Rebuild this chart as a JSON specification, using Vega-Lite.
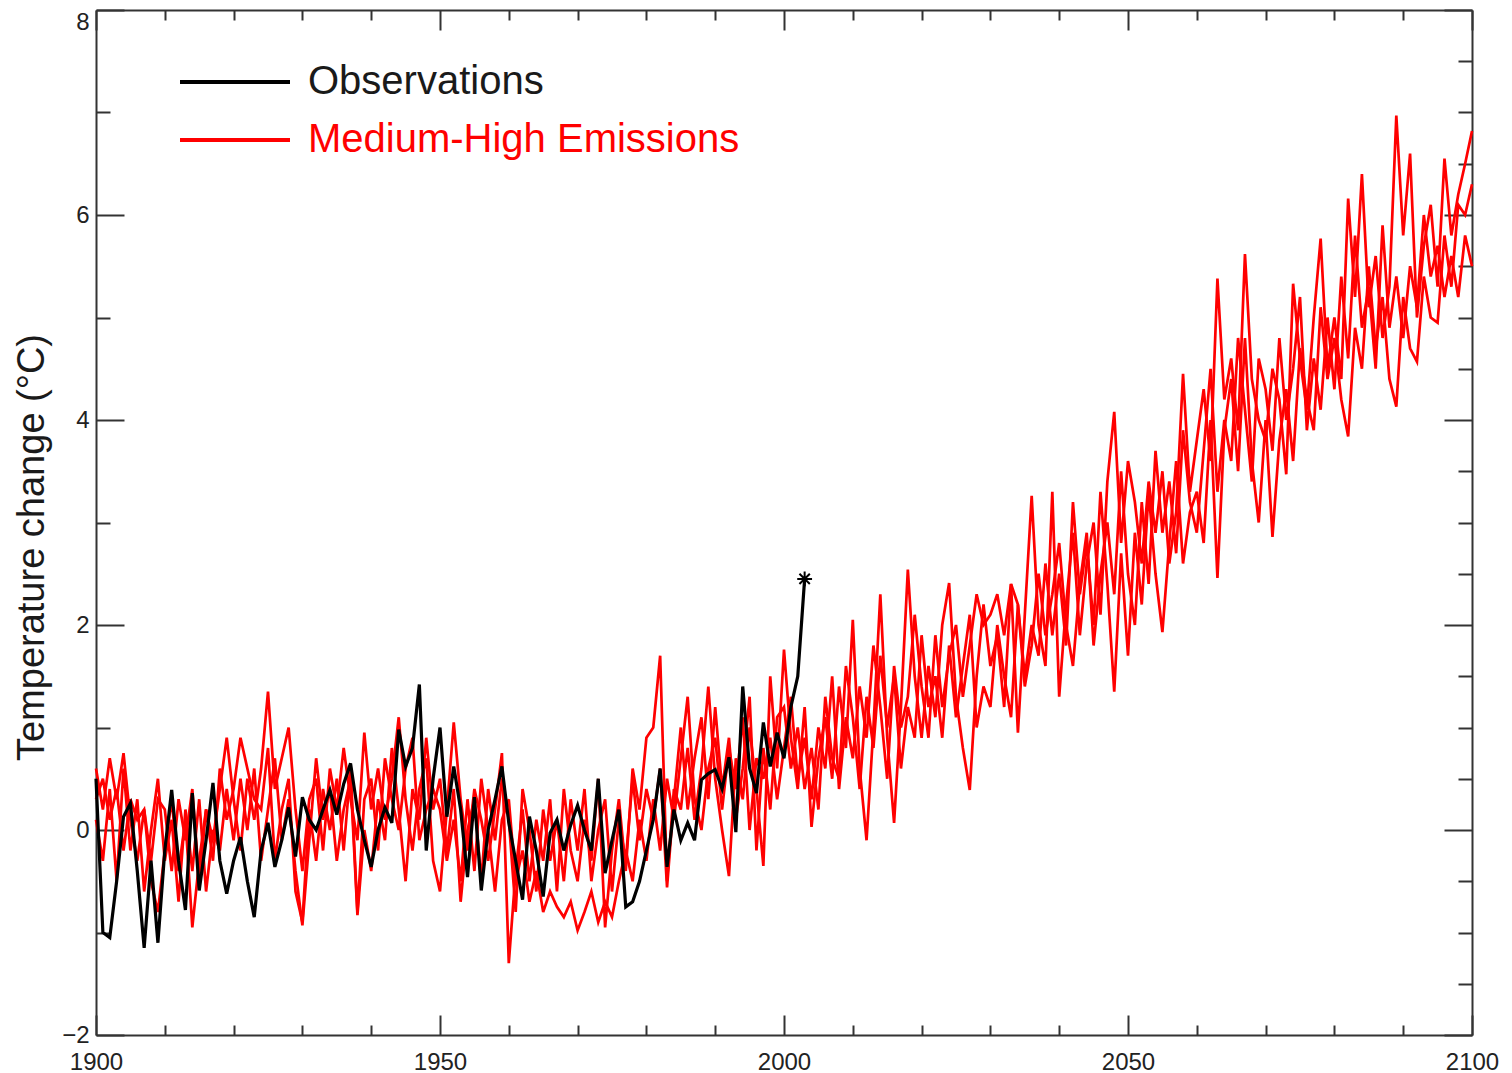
{
"$schema": "https://vega.github.io/schema/vega-lite/v6.json",
"width": 1376, "height": 1025,
"autosize": {"type": "none"},
"padding": {"left": 96, "top": 10, "right": 40, "bottom": 38},
"background": "white",
"config": {
  "view": {"stroke": null},
  "font": "Liberation Sans",
  "axis": {"domainColor": "#333333", "domainWidth": 2, "tickColor": "#333333", "tickWidth": 2, "labelFont": "Liberation Sans", "labelFontSize": 24, "labelColor": "#222222", "grid": false}
},
"datasets": {
"runA": [
{"year":1900,"temp":0.6},{"year":1901,"temp":0.2},{"year":1902,"temp":0.7},{"year":1903,"temp":0.3},{"year":1904,"temp":0.75},{"year":1905,"temp":0.1},{"year":1906,"temp":-0.3},{"year":1907,"temp":0.2},{"year":1908,"temp":-0.5},{"year":1909,"temp":-0.8},
{"year":1910,"temp":-0.2},{"year":1911,"temp":0.3},{"year":1912,"temp":-0.4},{"year":1913,"temp":0.1},{"year":1914,"temp":-0.95},{"year":1915,"temp":-0.3},{"year":1916,"temp":0.2},{"year":1917,"temp":-0.1},{"year":1918,"temp":0.4},{"year":1919,"temp":0.9},
{"year":1920,"temp":0.3},{"year":1921,"temp":-0.2},{"year":1922,"temp":0.5},{"year":1923,"temp":0.1},{"year":1924,"temp":0.6},{"year":1925,"temp":1.35},{"year":1926,"temp":0.4},{"year":1927,"temp":0.7},{"year":1928,"temp":1.0},{"year":1929,"temp":0.2},
{"year":1930,"temp":-0.4},{"year":1931,"temp":0.3},{"year":1932,"temp":0.5},{"year":1933,"temp":-0.2},{"year":1934,"temp":0.6},{"year":1935,"temp":0.2},{"year":1936,"temp":0.8},{"year":1937,"temp":0.3},{"year":1938,"temp":-0.1},{"year":1939,"temp":0.95},
{"year":1940,"temp":0.2},{"year":1941,"temp":0.6},{"year":1942,"temp":0.1},{"year":1943,"temp":0.5},{"year":1944,"temp":1.1},{"year":1945,"temp":0.3},{"year":1946,"temp":-0.2},{"year":1947,"temp":0.4},{"year":1948,"temp":0.7},{"year":1949,"temp":-0.3},
{"year":1950,"temp":-0.6},{"year":1951,"temp":0.2},{"year":1952,"temp":1.05},{"year":1953,"temp":0.3},{"year":1954,"temp":-0.2},{"year":1955,"temp":0.4},{"year":1956,"temp":0.1},{"year":1957,"temp":-0.3},{"year":1958,"temp":0.2},{"year":1959,"temp":0.75},
{"year":1960,"temp":-1.3},{"year":1961,"temp":-0.4},{"year":1962,"temp":0.2},{"year":1963,"temp":-0.5},{"year":1964,"temp":0.1},{"year":1965,"temp":-0.3},{"year":1966,"temp":0.3},{"year":1967,"temp":-0.6},{"year":1968,"temp":0.4},{"year":1969,"temp":-0.2},
{"year":1970,"temp":-0.5},{"year":1971,"temp":0.1},{"year":1972,"temp":-0.3},{"year":1973,"temp":0.5},{"year":1974,"temp":-0.95},{"year":1975,"temp":-0.2},{"year":1976,"temp":0.3},{"year":1977,"temp":-0.4},{"year":1978,"temp":0.6},{"year":1979,"temp":0.2},
{"year":1980,"temp":0.9},{"year":1981,"temp":1.0},{"year":1982,"temp":1.7},{"year":1983,"temp":-0.5},{"year":1984,"temp":0.4},{"year":1985,"temp":0.2},{"year":1986,"temp":0.8},{"year":1987,"temp":0.1},{"year":1988,"temp":0.6},{"year":1989,"temp":1.4},
{"year":1990,"temp":0.5},{"year":1991,"temp":0.0},{"year":1992,"temp":-0.45},{"year":1993,"temp":0.7},{"year":1994,"temp":0.3},{"year":1995,"temp":1.0},{"year":1996,"temp":0.4},{"year":1997,"temp":-0.35},{"year":1998,"temp":1.5},{"year":1999,"temp":0.6},
{"year":2000,"temp":1.76},{"year":2001,"temp":0.9},{"year":2002,"temp":0.4},{"year":2003,"temp":1.2},{"year":2004,"temp":0.03},{"year":2005,"temp":0.7},{"year":2006,"temp":1.1},{"year":2007,"temp":0.5},{"year":2008,"temp":1.4},{"year":2009,"temp":0.8},
{"year":2010,"temp":2.05},{"year":2011,"temp":0.6},{"year":2012,"temp":-0.1},{"year":2013,"temp":1.0},{"year":2014,"temp":2.3},{"year":2015,"temp":0.9},{"year":2016,"temp":0.07},{"year":2017,"temp":1.2},{"year":2018,"temp":2.54},{"year":2019,"temp":1.5},
{"year":2020,"temp":0.9},{"year":2021,"temp":1.6},{"year":2022,"temp":1.1},{"year":2023,"temp":2.0},{"year":2024,"temp":2.41},{"year":2025,"temp":1.3},{"year":2026,"temp":0.8},{"year":2027,"temp":0.39},{"year":2028,"temp":1.5},{"year":2029,"temp":2.2},
{"year":2030,"temp":1.6},{"year":2031,"temp":1.9},{"year":2032,"temp":1.2},{"year":2033,"temp":2.4},{"year":2034,"temp":0.95},{"year":2035,"temp":2.1},{"year":2036,"temp":3.26},{"year":2037,"temp":2.0},{"year":2038,"temp":1.6},{"year":2039,"temp":3.3},
{"year":2040,"temp":1.3},{"year":2041,"temp":2.2},{"year":2042,"temp":2.9},{"year":2043,"temp":1.9},{"year":2044,"temp":2.6},{"year":2045,"temp":3.0},{"year":2046,"temp":2.1},{"year":2047,"temp":3.4},{"year":2048,"temp":4.08},{"year":2049,"temp":2.8},
{"year":2050,"temp":3.6},{"year":2051,"temp":3.2},{"year":2052,"temp":2.6},{"year":2053,"temp":3.4},{"year":2054,"temp":2.9},{"year":2055,"temp":3.5},{"year":2056,"temp":2.6},{"year":2057,"temp":3.1},{"year":2058,"temp":4.45},{"year":2059,"temp":3.3},
{"year":2060,"temp":3.8},{"year":2061,"temp":4.3},{"year":2062,"temp":3.6},{"year":2063,"temp":5.38},{"year":2064,"temp":4.2},{"year":2065,"temp":4.6},{"year":2066,"temp":3.9},{"year":2067,"temp":5.62},{"year":2068,"temp":4.4},{"year":2069,"temp":4.0},
{"year":2070,"temp":3.8},{"year":2071,"temp":4.5},{"year":2072,"temp":4.2},{"year":2073,"temp":3.47},{"year":2074,"temp":5.33},{"year":2075,"temp":4.6},{"year":2076,"temp":4.1},{"year":2077,"temp":5.0},{"year":2078,"temp":5.77},{"year":2079,"temp":4.5},
{"year":2080,"temp":5.0},{"year":2081,"temp":4.4},{"year":2082,"temp":6.16},{"year":2083,"temp":5.2},{"year":2084,"temp":6.4},{"year":2085,"temp":5.1},{"year":2086,"temp":5.6},{"year":2087,"temp":4.8},{"year":2088,"temp":5.3},{"year":2089,"temp":6.97},
{"year":2090,"temp":5.8},{"year":2091,"temp":6.6},{"year":2092,"temp":5.0},{"year":2093,"temp":5.7},{"year":2094,"temp":6.1},{"year":2095,"temp":5.3},{"year":2096,"temp":6.55},{"year":2097,"temp":5.8},{"year":2098,"temp":6.2},{"year":2099,"temp":6.5},{"year":2100,"temp":6.82}
],
"runB": [
{"year":1900,"temp":0.3},{"year":1901,"temp":0.5},{"year":1902,"temp":0.1},{"year":1903,"temp":0.4},{"year":1904,"temp":-0.2},{"year":1905,"temp":0.3},{"year":1906,"temp":0.1},{"year":1907,"temp":0.2},{"year":1908,"temp":-0.3},{"year":1909,"temp":0.3},
{"year":1910,"temp":0.2},{"year":1911,"temp":-0.4},{"year":1912,"temp":0.3},{"year":1913,"temp":-0.1},{"year":1914,"temp":0.4},{"year":1915,"temp":-0.5},{"year":1916,"temp":0.2},{"year":1917,"temp":-0.3},{"year":1918,"temp":0.6},{"year":1919,"temp":0.1},
{"year":1920,"temp":0.4},{"year":1921,"temp":0.9},{"year":1922,"temp":0.6},{"year":1923,"temp":0.3},{"year":1924,"temp":0.2},{"year":1925,"temp":0.8},{"year":1926,"temp":-0.3},{"year":1927,"temp":0.2},{"year":1928,"temp":0.5},{"year":1929,"temp":-0.6},
{"year":1930,"temp":-0.9},{"year":1931,"temp":0.2},{"year":1932,"temp":-0.3},{"year":1933,"temp":0.4},{"year":1934,"temp":0.0},{"year":1935,"temp":0.5},{"year":1936,"temp":-0.2},{"year":1937,"temp":0.6},{"year":1938,"temp":-0.8},{"year":1939,"temp":0.3},
{"year":1940,"temp":0.5},{"year":1941,"temp":-0.2},{"year":1942,"temp":0.7},{"year":1943,"temp":0.3},{"year":1944,"temp":0.0},{"year":1945,"temp":0.6},{"year":1946,"temp":0.9},{"year":1947,"temp":-0.1},{"year":1948,"temp":0.2},{"year":1949,"temp":0.4},
{"year":1950,"temp":0.2},{"year":1951,"temp":-0.3},{"year":1952,"temp":0.1},{"year":1953,"temp":-0.5},{"year":1954,"temp":0.3},{"year":1955,"temp":-0.4},{"year":1956,"temp":0.5},{"year":1957,"temp":0.0},{"year":1958,"temp":-0.6},{"year":1959,"temp":0.1},
{"year":1960,"temp":0.3},{"year":1961,"temp":-0.5},{"year":1962,"temp":-0.2},{"year":1963,"temp":-0.7},{"year":1964,"temp":-0.4},{"year":1965,"temp":-0.8},{"year":1966,"temp":-0.6},{"year":1967,"temp":-0.75},{"year":1968,"temp":-0.85},{"year":1969,"temp":-0.7},
{"year":1970,"temp":-0.98},{"year":1971,"temp":-0.8},{"year":1972,"temp":-0.6},{"year":1973,"temp":-0.9},{"year":1974,"temp":-0.7},{"year":1975,"temp":-0.85},{"year":1976,"temp":-0.5},{"year":1977,"temp":-0.2},{"year":1978,"temp":-0.5},{"year":1979,"temp":0.1},
{"year":1980,"temp":-0.3},{"year":1981,"temp":0.3},{"year":1982,"temp":-0.2},{"year":1983,"temp":0.5},{"year":1984,"temp":0.1},{"year":1985,"temp":0.7},{"year":1986,"temp":1.3},{"year":1987,"temp":0.3},{"year":1988,"temp":0.0},{"year":1989,"temp":0.6},
{"year":1990,"temp":0.9},{"year":1991,"temp":0.2},{"year":1992,"temp":0.8},{"year":1993,"temp":0.4},{"year":1994,"temp":1.1},{"year":1995,"temp":0.0},{"year":1996,"temp":0.7},{"year":1997,"temp":0.5},{"year":1998,"temp":0.9},{"year":1999,"temp":0.3},
{"year":2000,"temp":0.8},{"year":2001,"temp":1.3},{"year":2002,"temp":0.5},{"year":2003,"temp":0.9},{"year":2004,"temp":0.3},{"year":2005,"temp":1.0},{"year":2006,"temp":0.6},{"year":2007,"temp":1.5},{"year":2008,"temp":0.4},{"year":2009,"temp":1.1},
{"year":2010,"temp":0.7},{"year":2011,"temp":1.4},{"year":2012,"temp":0.9},{"year":2013,"temp":1.8},{"year":2014,"temp":1.2},{"year":2015,"temp":0.5},{"year":2016,"temp":1.6},{"year":2017,"temp":1.0},{"year":2018,"temp":1.3},{"year":2019,"temp":2.1},
{"year":2020,"temp":1.4},{"year":2021,"temp":0.9},{"year":2022,"temp":1.9},{"year":2023,"temp":1.2},{"year":2024,"temp":1.7},{"year":2025,"temp":2.0},{"year":2026,"temp":1.3},{"year":2027,"temp":1.8},{"year":2028,"temp":2.3},{"year":2029,"temp":2.0},
{"year":2030,"temp":2.1},{"year":2031,"temp":2.3},{"year":2032,"temp":1.9},{"year":2033,"temp":2.4},{"year":2034,"temp":2.2},{"year":2035,"temp":1.5},{"year":2036,"temp":2.0},{"year":2037,"temp":1.7},{"year":2038,"temp":2.6},{"year":2039,"temp":1.9},
{"year":2040,"temp":2.5},{"year":2041,"temp":1.8},{"year":2042,"temp":3.2},{"year":2043,"temp":2.3},{"year":2044,"temp":2.8},{"year":2045,"temp":2.0},{"year":2046,"temp":3.3},{"year":2047,"temp":2.4},{"year":2048,"temp":1.35},{"year":2049,"temp":2.7},
{"year":2050,"temp":1.7},{"year":2051,"temp":2.9},{"year":2052,"temp":2.2},{"year":2053,"temp":3.3},{"year":2054,"temp":2.5},{"year":2055,"temp":1.93},{"year":2056,"temp":2.8},{"year":2057,"temp":3.6},{"year":2058,"temp":2.6},{"year":2059,"temp":3.1},
{"year":2060,"temp":3.3},{"year":2061,"temp":2.8},{"year":2062,"temp":4.0},{"year":2063,"temp":2.46},{"year":2064,"temp":3.9},{"year":2065,"temp":4.4},{"year":2066,"temp":3.5},{"year":2067,"temp":4.8},{"year":2068,"temp":3.6},{"year":2069,"temp":3.0},
{"year":2070,"temp":4.0},{"year":2071,"temp":2.86},{"year":2072,"temp":3.8},{"year":2073,"temp":4.3},{"year":2074,"temp":3.6},{"year":2075,"temp":4.7},{"year":2076,"temp":4.2},{"year":2077,"temp":3.9},{"year":2078,"temp":5.1},{"year":2079,"temp":4.4},
{"year":2080,"temp":4.8},{"year":2081,"temp":4.2},{"year":2082,"temp":3.84},{"year":2083,"temp":4.9},{"year":2084,"temp":4.5},{"year":2085,"temp":5.5},{"year":2086,"temp":4.7},{"year":2087,"temp":5.2},{"year":2088,"temp":4.4},{"year":2089,"temp":4.13},
{"year":2090,"temp":5.2},{"year":2091,"temp":4.7},{"year":2092,"temp":4.57},{"year":2093,"temp":5.4},{"year":2094,"temp":5.0},{"year":2095,"temp":4.95},{"year":2096,"temp":5.8},{"year":2097,"temp":5.3},{"year":2098,"temp":6.1},{"year":2099,"temp":6.0},{"year":2100,"temp":6.3}
],
"runC": [
{"year":1900,"temp":0.1},{"year":1901,"temp":-0.3},{"year":1902,"temp":0.4},{"year":1903,"temp":-0.5},{"year":1904,"temp":0.6},{"year":1905,"temp":-0.2},{"year":1906,"temp":0.3},{"year":1907,"temp":-0.6},{"year":1908,"temp":0.0},{"year":1909,"temp":0.5},
{"year":1910,"temp":-0.3},{"year":1911,"temp":0.1},{"year":1912,"temp":-0.7},{"year":1913,"temp":0.2},{"year":1914,"temp":-0.4},{"year":1915,"temp":0.3},{"year":1916,"temp":-0.6},{"year":1917,"temp":0.0},{"year":1918,"temp":-0.2},{"year":1919,"temp":0.4},
{"year":1920,"temp":-0.1},{"year":1921,"temp":0.5},{"year":1922,"temp":0.0},{"year":1923,"temp":0.6},{"year":1924,"temp":-0.3},{"year":1925,"temp":0.2},{"year":1926,"temp":0.7},{"year":1927,"temp":-0.1},{"year":1928,"temp":0.3},{"year":1929,"temp":-0.4},
{"year":1930,"temp":-0.93},{"year":1931,"temp":-0.1},{"year":1932,"temp":0.7},{"year":1933,"temp":0.1},{"year":1934,"temp":0.4},{"year":1935,"temp":-0.3},{"year":1936,"temp":0.2},{"year":1937,"temp":0.5},{"year":1938,"temp":-0.83},{"year":1939,"temp":0.0},
{"year":1940,"temp":-0.4},{"year":1941,"temp":0.3},{"year":1942,"temp":-0.1},{"year":1943,"temp":0.8},{"year":1944,"temp":0.2},{"year":1945,"temp":-0.5},{"year":1946,"temp":0.4},{"year":1947,"temp":0.1},{"year":1948,"temp":0.9},{"year":1949,"temp":0.2},
{"year":1950,"temp":0.5},{"year":1951,"temp":-0.2},{"year":1952,"temp":0.4},{"year":1953,"temp":-0.7},{"year":1954,"temp":0.0},{"year":1955,"temp":0.3},{"year":1956,"temp":-0.5},{"year":1957,"temp":0.4},{"year":1958,"temp":-0.1},{"year":1959,"temp":0.5},
{"year":1960,"temp":0.1},{"year":1961,"temp":-0.8},{"year":1962,"temp":0.4},{"year":1963,"temp":0.0},{"year":1964,"temp":-0.6},{"year":1965,"temp":0.2},{"year":1966,"temp":-0.3},{"year":1967,"temp":0.1},{"year":1968,"temp":-0.5},{"year":1969,"temp":0.3},
{"year":1970,"temp":-0.2},{"year":1971,"temp":0.4},{"year":1972,"temp":-0.5},{"year":1973,"temp":0.0},{"year":1974,"temp":0.3},{"year":1975,"temp":-0.6},{"year":1976,"temp":0.1},{"year":1977,"temp":-0.3},{"year":1978,"temp":0.5},{"year":1979,"temp":-0.1},
{"year":1980,"temp":0.4},{"year":1981,"temp":0.1},{"year":1982,"temp":0.6},{"year":1983,"temp":-0.56},{"year":1984,"temp":0.3},{"year":1985,"temp":1.0},{"year":1986,"temp":0.2},{"year":1987,"temp":0.7},{"year":1988,"temp":1.1},{"year":1989,"temp":0.3},
{"year":1990,"temp":1.2},{"year":1991,"temp":0.4},{"year":1992,"temp":0.9},{"year":1993,"temp":0.1},{"year":1994,"temp":0.6},{"year":1995,"temp":1.3},{"year":1996,"temp":-0.2},{"year":1997,"temp":0.8},{"year":1998,"temp":0.2},{"year":1999,"temp":1.1},
{"year":2000,"temp":1.2},{"year":2001,"temp":0.6},{"year":2002,"temp":1.0},{"year":2003,"temp":0.4},{"year":2004,"temp":0.8},{"year":2005,"temp":0.2},{"year":2006,"temp":1.3},{"year":2007,"temp":0.7},{"year":2008,"temp":0.5},{"year":2009,"temp":1.6},
{"year":2010,"temp":1.1},{"year":2011,"temp":0.4},{"year":2012,"temp":1.3},{"year":2013,"temp":0.8},{"year":2014,"temp":1.7},{"year":2015,"temp":1.0},{"year":2016,"temp":1.5},{"year":2017,"temp":0.6},{"year":2018,"temp":1.2},{"year":2019,"temp":0.9},
{"year":2020,"temp":1.9},{"year":2021,"temp":1.2},{"year":2022,"temp":1.5},{"year":2023,"temp":0.9},{"year":2024,"temp":1.8},{"year":2025,"temp":1.1},{"year":2026,"temp":1.6},{"year":2027,"temp":2.1},{"year":2028,"temp":1.0},{"year":2029,"temp":1.4},
{"year":2030,"temp":1.2},{"year":2031,"temp":2.0},{"year":2032,"temp":1.5},{"year":2033,"temp":1.1},{"year":2034,"temp":2.2},{"year":2035,"temp":1.4},{"year":2036,"temp":1.8},{"year":2037,"temp":2.5},{"year":2038,"temp":1.9},{"year":2039,"temp":2.3},
{"year":2040,"temp":2.8},{"year":2041,"temp":2.0},{"year":2042,"temp":1.6},{"year":2043,"temp":2.4},{"year":2044,"temp":2.9},{"year":2045,"temp":1.8},{"year":2046,"temp":2.5},{"year":2047,"temp":3.0},{"year":2048,"temp":2.3},{"year":2049,"temp":3.5},
{"year":2050,"temp":2.5},{"year":2051,"temp":2.0},{"year":2052,"temp":3.2},{"year":2053,"temp":2.4},{"year":2054,"temp":3.7},{"year":2055,"temp":2.9},{"year":2056,"temp":3.4},{"year":2057,"temp":2.7},{"year":2058,"temp":3.9},{"year":2059,"temp":3.2},
{"year":2060,"temp":2.9},{"year":2061,"temp":3.7},{"year":2062,"temp":4.5},{"year":2063,"temp":3.3},{"year":2064,"temp":4.0},{"year":2065,"temp":3.6},{"year":2066,"temp":4.8},{"year":2067,"temp":4.1},{"year":2068,"temp":3.4},{"year":2069,"temp":4.6},
{"year":2070,"temp":4.3},{"year":2071,"temp":3.7},{"year":2072,"temp":4.8},{"year":2073,"temp":4.0},{"year":2074,"temp":4.5},{"year":2075,"temp":5.2},{"year":2076,"temp":3.9},{"year":2077,"temp":4.6},{"year":2078,"temp":4.1},{"year":2079,"temp":5.0},
{"year":2080,"temp":4.3},{"year":2081,"temp":5.4},{"year":2082,"temp":4.6},{"year":2083,"temp":5.8},{"year":2084,"temp":4.9},{"year":2085,"temp":5.3},{"year":2086,"temp":4.5},{"year":2087,"temp":5.9},{"year":2088,"temp":4.9},{"year":2089,"temp":5.4},
{"year":2090,"temp":4.8},{"year":2091,"temp":5.5},{"year":2092,"temp":5.1},{"year":2093,"temp":6.0},{"year":2094,"temp":5.4},{"year":2095,"temp":5.7},{"year":2096,"temp":5.2},{"year":2097,"temp":5.6},{"year":2098,"temp":5.2},{"year":2099,"temp":5.8},{"year":2100,"temp":5.5}
],
"obs": [
{"year":1900,"temp":0.5},{"year":1901,"temp":-1.0},{"year":1902,"temp":-1.05},{"year":1903,"temp":-0.5},{"year":1904,"temp":0.13},{"year":1905,"temp":0.26},{"year":1906,"temp":-0.4},{"year":1907,"temp":-1.15},{"year":1908,"temp":-0.3},{"year":1909,"temp":-1.1},
{"year":1910,"temp":-0.2},{"year":1911,"temp":0.39},{"year":1912,"temp":-0.3},{"year":1913,"temp":-0.78},{"year":1914,"temp":0.36},{"year":1915,"temp":-0.59},{"year":1916,"temp":-0.1},{"year":1917,"temp":0.46},{"year":1918,"temp":-0.3},{"year":1919,"temp":-0.62},
{"year":1920,"temp":-0.3},{"year":1921,"temp":-0.07},{"year":1922,"temp":-0.5},{"year":1923,"temp":-0.85},{"year":1924,"temp":-0.2},{"year":1925,"temp":0.07},{"year":1926,"temp":-0.36},{"year":1927,"temp":-0.1},{"year":1928,"temp":0.22},{"year":1929,"temp":-0.26},
{"year":1930,"temp":0.32},{"year":1931,"temp":0.1},{"year":1932,"temp":0.0},{"year":1933,"temp":0.2},{"year":1934,"temp":0.39},{"year":1935,"temp":0.15},{"year":1936,"temp":0.45},{"year":1937,"temp":0.65},{"year":1938,"temp":0.2},{"year":1939,"temp":-0.1},
{"year":1940,"temp":-0.36},{"year":1941,"temp":0.0},{"year":1942,"temp":0.22},{"year":1943,"temp":0.07},{"year":1944,"temp":0.98},{"year":1945,"temp":0.62},{"year":1946,"temp":0.8},{"year":1947,"temp":1.42},{"year":1948,"temp":-0.2},{"year":1949,"temp":0.5},
{"year":1950,"temp":1.0},{"year":1951,"temp":0.13},{"year":1952,"temp":0.62},{"year":1953,"temp":0.2},{"year":1954,"temp":-0.46},{"year":1955,"temp":0.32},{"year":1956,"temp":-0.59},{"year":1957,"temp":0.0},{"year":1958,"temp":0.3},{"year":1959,"temp":0.62},
{"year":1960,"temp":0.07},{"year":1961,"temp":-0.3},{"year":1962,"temp":-0.68},{"year":1963,"temp":0.13},{"year":1964,"temp":-0.2},{"year":1965,"temp":-0.65},{"year":1966,"temp":-0.03},{"year":1967,"temp":0.1},{"year":1968,"temp":-0.2},{"year":1969,"temp":0.05},
{"year":1970,"temp":0.24},{"year":1971,"temp":0.0},{"year":1972,"temp":-0.2},{"year":1973,"temp":0.5},{"year":1974,"temp":-0.42},{"year":1975,"temp":-0.1},{"year":1976,"temp":0.2},{"year":1977,"temp":-0.75},{"year":1978,"temp":-0.7},{"year":1979,"temp":-0.5},
{"year":1980,"temp":-0.2},{"year":1981,"temp":0.1},{"year":1982,"temp":0.6},{"year":1983,"temp":-0.36},{"year":1984,"temp":0.2},{"year":1985,"temp":-0.1},{"year":1986,"temp":0.07},{"year":1987,"temp":-0.1},{"year":1988,"temp":0.49},{"year":1989,"temp":0.55},
{"year":1990,"temp":0.59},{"year":1991,"temp":0.4},{"year":1992,"temp":0.71},{"year":1993,"temp":-0.02},{"year":1994,"temp":1.4},{"year":1995,"temp":0.6},{"year":1996,"temp":0.36},{"year":1997,"temp":1.05},{"year":1998,"temp":0.62},{"year":1999,"temp":0.95},
{"year":2000,"temp":0.7},{"year":2001,"temp":1.2},{"year":2002,"temp":1.5},{"year":2003,"temp":2.45}
]
},
"layer": [
{
  "data": {"name": "runA"},
  "mark": {"type": "line", "strokeWidth": 2.7},
  "encoding": {
    "x": {"field": "year", "type": "quantitative", "scale": {"domain": [1900, 2100], "nice": false, "zero": false},
      "axis": {"orient": "bottom", "title": null, "format": "d",
        "values": [1900,1910,1920,1930,1940,1950,1960,1970,1980,1990,2000,2010,2020,2030,2040,2050,2060,2070,2080,2090,2100],
        "tickSize": {"condition": {"test": "datum.value % 50 === 0", "value": -20}, "value": -10},
        "labelExpr": "datum.value % 50 === 0 ? datum.label : ''",
        "labelPadding": 35, "labelFlush": false, "labelOverlap": false, "labelBound": false}},
    "y": {"field": "temp", "type": "quantitative", "scale": {"domain": [-2, 8], "nice": false, "zero": false},
      "axis": {"orient": "left", "title": "Temperature change (°C)", "format": "d",
        "values": [-2,-1.5,-1,-0.5,0,0.5,1,1.5,2,2.5,3,3.5,4,4.5,5,5.5,6,6.5,7,7.5,8],
        "tickSize": {"condition": {"test": "datum.value % 2 === 0", "value": -28}, "value": -14},
        "labelExpr": "datum.value % 2 === 0 ? datum.label : ''",
        "labelPadding": 35, "labelFlush": false, "labelOverlap": false, "labelBound": false,
        "labelBaseline": {"condition": {"test": "datum.value === 8", "value": "top"}, "value": "middle"},
        "titleFont": "Liberation Sans", "titleFontSize": 38, "titleFontWeight": "normal", "titleColor": "#1a1a1a",
        "titleX": -64, "titleY": 537, "titleAngle": -90, "titleAlign": "center", "titleBaseline": "middle"}},
    "color": {"datum": "Medium-High Emissions", "type": "nominal",
      "scale": {"domain": ["Observations", "Medium-High Emissions"], "range": ["#000000", "#ff0000"]},
      "legend": {"orient": "none", "legendX": 82, "legendY": 49, "title": null, "padding": 0,
        "symbolType": "stroke", "symbolSize": 12100, "symbolStrokeWidth": 4, "clipHeight": 46,
        "labelFont": "Liberation Sans", "labelFontSize": 40, "labelOffset": 16, "labelLimit": 1000, "rowPadding": 12,
        "labelColor": {"expr": "datum.label === 'Observations' ? '#1a1a1a' : '#ff0000'"}}}
  }
},
{
  "data": {"name": "runB"},
  "mark": {"type": "line", "strokeWidth": 2.7},
  "encoding": {
    "x": {"field": "year", "type": "quantitative", "axis": null},
    "y": {"field": "temp", "type": "quantitative", "axis": null},
    "color": {"datum": "Medium-High Emissions", "type": "nominal"}
  }
},
{
  "data": {"name": "runC"},
  "mark": {"type": "line", "strokeWidth": 2.7},
  "encoding": {
    "x": {"field": "year", "type": "quantitative", "axis": null},
    "y": {"field": "temp", "type": "quantitative", "axis": null},
    "color": {"datum": "Medium-High Emissions", "type": "nominal"}
  }
},
{
  "data": {"name": "obs"},
  "mark": {"type": "line", "strokeWidth": 3.2},
  "encoding": {
    "x": {"field": "year", "type": "quantitative",
      "axis": {"orient": "top", "title": null, "labels": false,
        "values": [1900,1910,1920,1930,1940,1950,1960,1970,1980,1990,2000,2010,2020,2030,2040,2050,2060,2070,2080,2090,2100],
        "tickSize": {"condition": {"test": "datum.value % 50 === 0", "value": -20}, "value": -10}}},
    "y": {"field": "temp", "type": "quantitative",
      "axis": {"orient": "right", "title": null, "labels": false,
        "values": [-2,-1.5,-1,-0.5,0,0.5,1,1.5,2,2.5,3,3.5,4,4.5,5,5.5,6,6.5,7,7.5,8],
        "tickSize": {"condition": {"test": "datum.value % 2 === 0", "value": -28}, "value": -14}}},
    "color": {"datum": "Observations", "type": "nominal"}
  }
},
{
  "data": {"name": "obs"},
  "transform": [{"filter": "datum.year === 2003"}],
  "mark": {"type": "point", "shape": "M-1,0L1,0M0,-1L0,1M-0.7,-0.7L0.7,0.7M-0.7,0.7L0.7,-0.7", "filled": false, "stroke": "#000000", "strokeWidth": 2, "size": 220, "opacity": 1},
  "encoding": {
    "x": {"field": "year", "type": "quantitative", "axis": null},
    "y": {"field": "temp", "type": "quantitative", "axis": null}
  }
}
],
"resolve": {"axis": {"x": "independent", "y": "independent"}}
}
